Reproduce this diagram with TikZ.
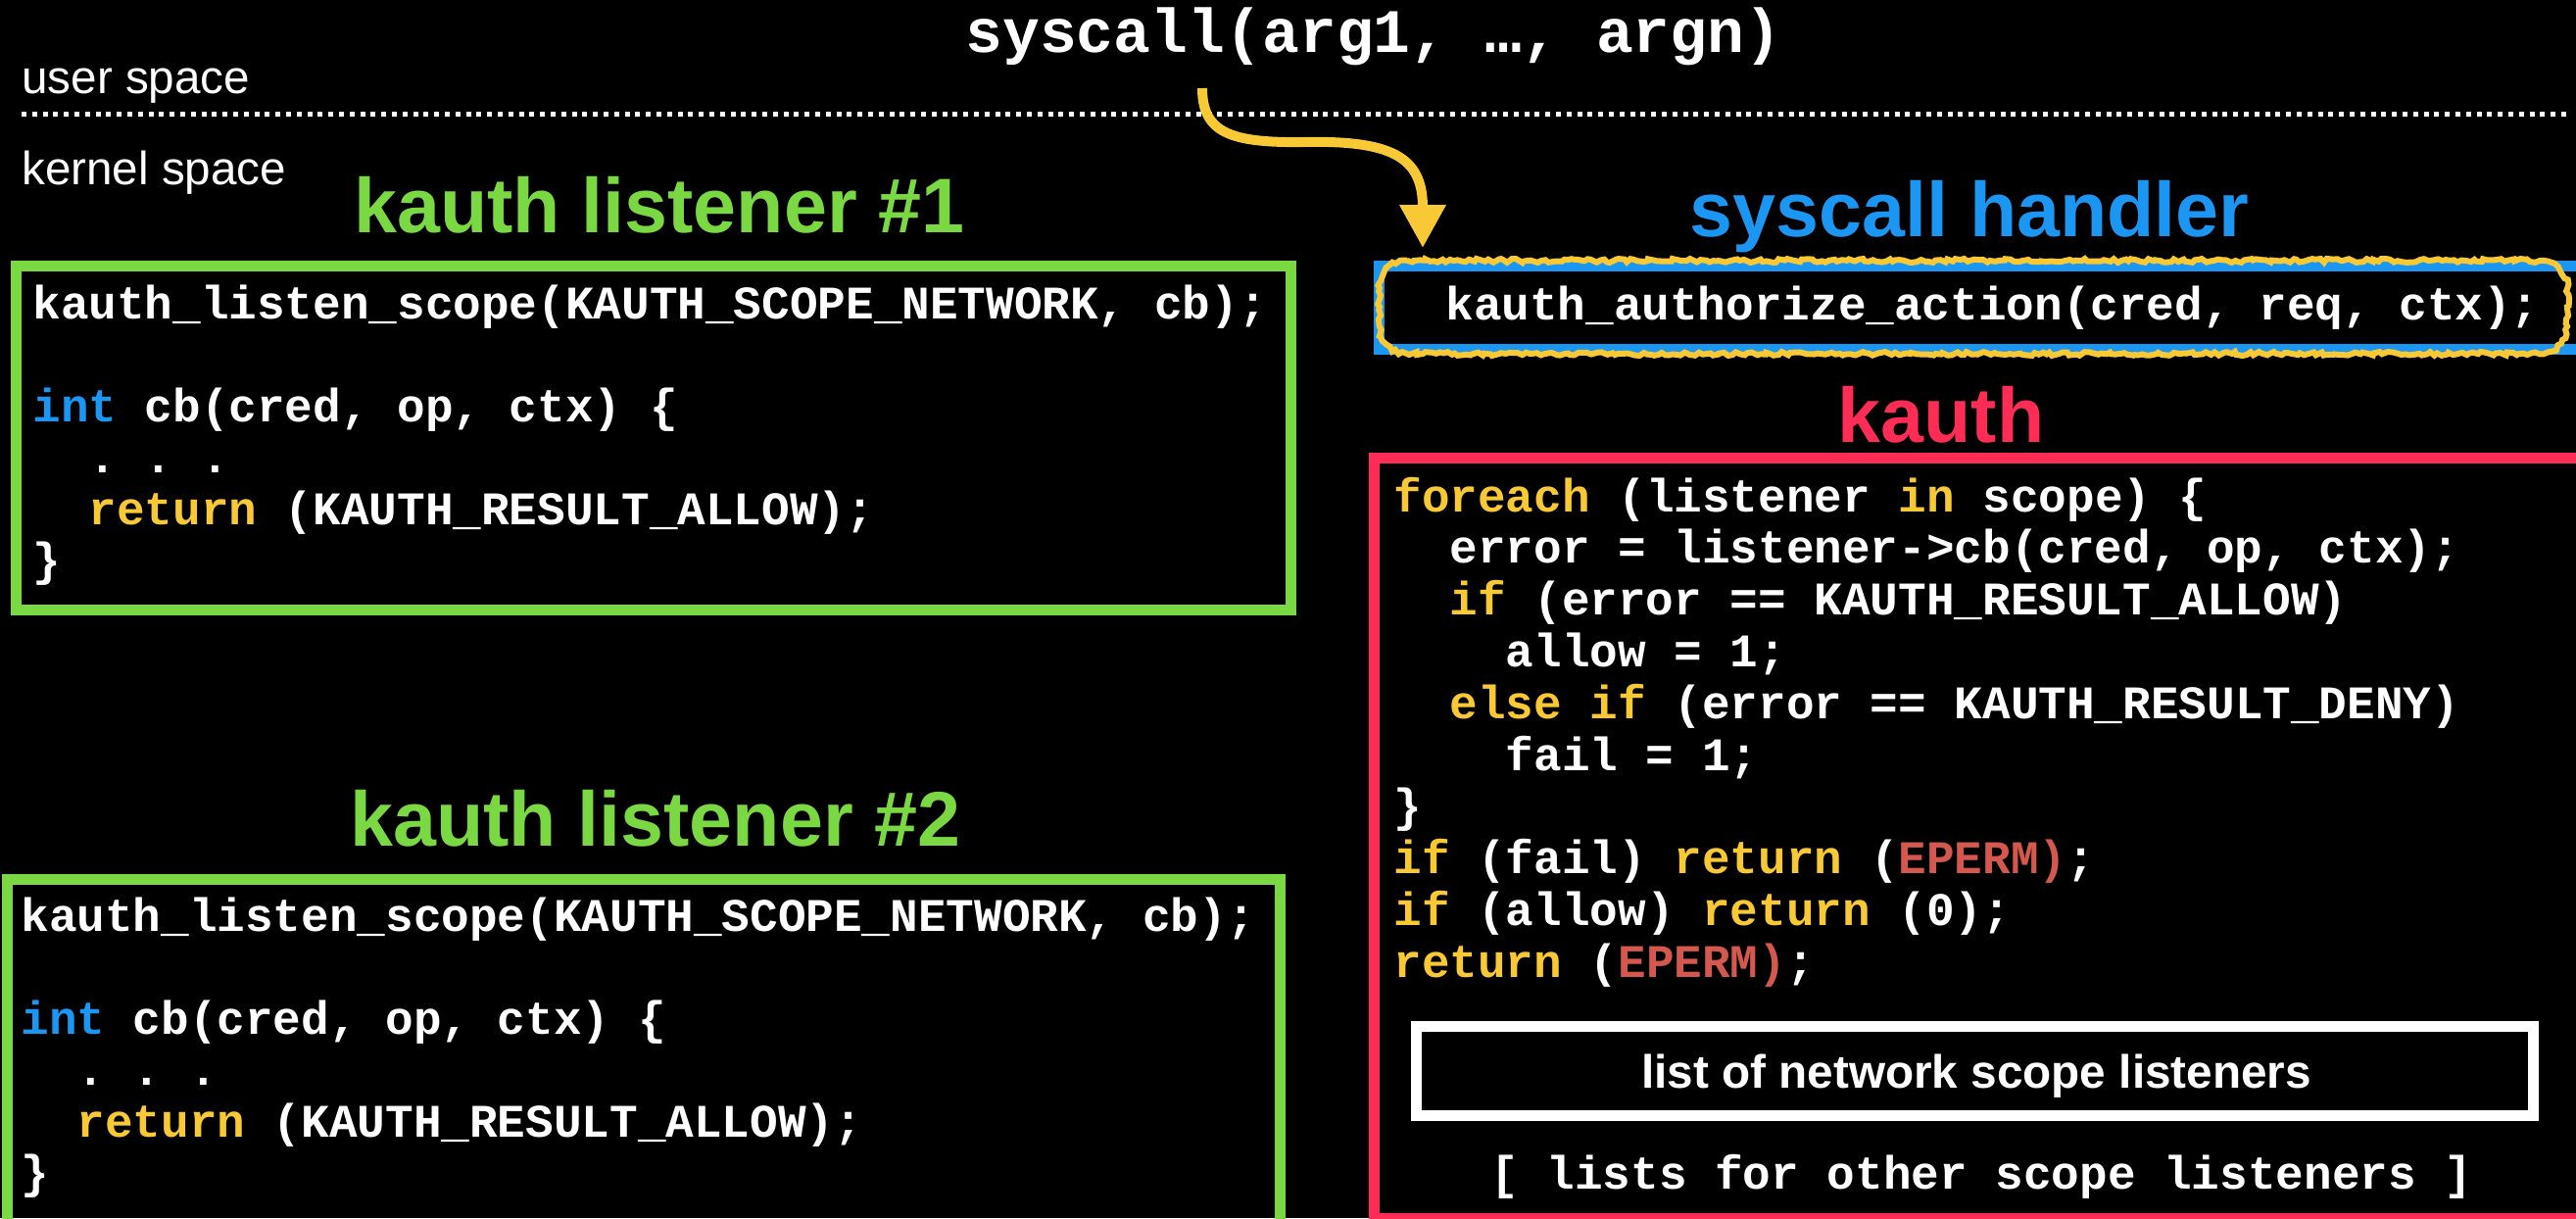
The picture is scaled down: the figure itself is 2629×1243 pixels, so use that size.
\documentclass[tikz,border=0pt]{standalone}
\usepackage{fontspec}
\setmainfont{Liberation Sans}
\setsansfont{Liberation Sans}
\setmonofont{Liberation Mono}
\usetikzlibrary{arrows.meta,decorations.pathmorphing}

\definecolor{lgreen}{HTML}{7AD943}
\definecolor{hblue}{HTML}{1C96F3}
\definecolor{kred}{HTML}{FF2D55}
\definecolor{kwyel}{HTML}{F8C935}
\definecolor{epred}{HTML}{D4584E}

% keyword colouring for the code listings
\newcommand{\kwy}[1]{\textcolor{kwyel}{#1}}
\newcommand{\kwb}[1]{\textcolor{hblue}{#1}}
\newcommand{\kwr}[1]{\textcolor{epred}{#1}}

\begin{document}
\begin{tikzpicture}[x=0.5pt,y=-0.5pt,
  code/.style={anchor=base west, inner sep=0pt, text=white,
    font=\ttfamily\bfseries\fontsize{23.85pt}{28pt}\selectfont},
  calltext/.style={anchor=base west, inner sep=0pt, text=white,
    font=\ttfamily\bfseries\fontsize{31.55pt}{36pt}\selectfont},
  title/.style={anchor=base, inner sep=0pt,
    font=\sffamily\bfseries\fontsize{39.5pt}{46pt}\selectfont},
  spacelabel/.style={anchor=base west, inner sep=0pt, text=white,
    font=\sffamily\fontsize{23.8pt}{28pt}\selectfont},
  listlabel/.style={anchor=base, inner sep=0pt, text=white,
    font=\sffamily\bfseries\fontsize{23.85pt}{28pt}\selectfont},
  frame/.style={line width=5.5pt},
  chalk/.style={kwyel, line width=3pt, decorate,
    decoration={random steps, segment length=2pt, amplitude=1pt}}
]
\useasboundingbox (0,0) rectangle (2629,1243);
\fill[black] (0,0) rectangle (2629,1243);

% user / kernel boundary
\node[calltext] (call) at (985,53) {syscall(arg1, …, argn)};
\node[spacelabel] (user) at (22,95) {user space};
\draw[white, line width=2.5pt, dash pattern=on 2.5pt off 2.9pt] (22,116.5) -- (2622,116.5);
\node[spacelabel] (kernel) at (22,188) {kernel space};

% section titles
\node[title, text=lgreen] (t1) at (673,237) {kauth listener \#1};
\node[title, text=lgreen] (t2) at (669,863) {kauth listener \#2};
\node[title, text=hblue] (th) at (2010,241) {syscall handler};
\node[title, text=kred] (tk) at (1981,451) {kauth};

\begin{scope}
\clip (0,0) rectangle (2629,1243);
% frames
\draw[lgreen, frame] (16.5,271.5) rectangle (1317.5,622);
\draw[lgreen, frame] (7.5,897.5) rectangle (1306,1270);
\draw[hblue, frame] (1407.5,271.5) rectangle (2645,356);
\draw[kred, frame] (1402,467.5) rectangle (2645,1243.5);
\draw[white, frame] (1445.5,1047.5) rectangle (2585.5,1138);
% hand-drawn highlight round the authorize call
\draw[chalk] (1436,266) -- (2592,266)
  .. controls (2607.5,266) and (2620,278.5) .. (2620,294) -- (2620,333)
  .. controls (2620,348.5) and (2607.5,361) .. (2592,361) -- (1436,361)
  .. controls (1420.5,361) and (1408,348.5) .. (1408,333) -- (1408,294)
  .. controls (1408,278.5) and (1420.5,266) .. (1436,266) -- cycle;
\end{scope}

% listener #1
\node[code] (a1) at (33,325) {kauth\_listen\_scope(KAUTH\_SCOPE\_NETWORK, cb);};
\node[code] (a2) at (33,430) {\kwb{int} cb(cred, op, ctx) \{};
\node[code] (a3) at (90.2,482.5) {. . .};
\node[code] (a4) at (90.2,535) {\kwy{return} (KAUTH\_RESULT\_ALLOW);};
\node[code] (a5) at (33,587.5) {\}};

% listener #2
\node[code] (b1) at (21,950) {kauth\_listen\_scope(KAUTH\_SCOPE\_NETWORK, cb);};
\node[code] (b2) at (21,1055) {\kwb{int} cb(cred, op, ctx) \{};
\node[code] (b3) at (78.2,1107.5) {. . .};
\node[code] (b4) at (78.2,1160) {\kwy{return} (KAUTH\_RESULT\_ALLOW);};
\node[code] (b5) at (21,1212.5) {\}};

% syscall handler
\node[code] (h1) at (1475,326) {kauth\_authorize\_action(cred, req, ctx);};

% kauth dispatcher
\node[code] (k0) at (1422,522) {\kwy{foreach} (listener \kwy{in} scope) \{};
\node[code] (k1) at (1479.2,574.8) {error = listener->cb(cred, op, ctx);};
\node[code] (k2) at (1479.2,627.6) {\kwy{if} (error == KAUTH\_RESULT\_ALLOW)};
\node[code] (k3) at (1536.4,680.4) {allow = 1;};
\node[code] (k4) at (1479.2,733.2) {\kwy{else if} (error == KAUTH\_RESULT\_DENY)};
\node[code] (k5) at (1536.4,786) {fail = 1;};
\node[code] (k6) at (1422,838.8) {\}};
\node[code] (k7) at (1422,891.6) {\kwy{if} (fail) \kwy{return} (\kwr{EPERM)};};
\node[code] (k8) at (1422,944.4) {\kwy{if} (allow) \kwy{return} (0);};
\node[code] (k9) at (1422,997.2) {\kwy{return} (\kwr{EPERM)};};
\node[listlabel] (netlist) at (2017,1110) {list of network scope listeners};
\node[code] (others) at (1521,1213) {[ lists for other scope listeners ]};

% the call crossing into the kernel
\coordinate (callsrc) at (1227,90);
\coordinate (calldst) at (1452,253);
\draw[kwyel, line width=5pt, -{Triangle[length=22pt,width=22.5pt]}]
  (callsrc) .. controls (1227,135) and (1255,146) .. (1330,145)
  .. controls (1420,143) and (1452,160) .. (calldst);
\end{tikzpicture}
\end{document}
